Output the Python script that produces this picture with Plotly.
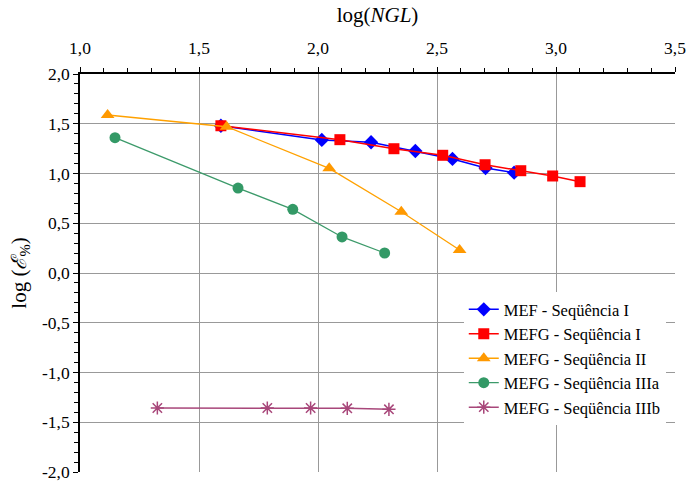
import plotly.graph_objects as go

# Data
mef_I_x = [1.592, 2.016, 2.223, 2.409, 2.565, 2.704, 2.824]
mef_I_y = [1.480, 1.337, 1.314, 1.226, 1.146, 1.055, 1.008]

mefg_I_x = [1.592, 2.092, 2.319, 2.524, 2.702, 2.852, 2.986, 3.101]
mefg_I_y = [1.480, 1.340, 1.249, 1.183, 1.088, 1.028, 0.975, 0.918]

mefg_II_x = [1.116, 1.616, 2.047, 2.350, 2.595]
mefg_II_y = [1.588, 1.470, 1.052, 0.616, 0.231]

mefg_IIIa_x = [1.147, 1.664, 1.894, 2.101, 2.280]
mefg_IIIa_y = [1.360, 0.854, 0.640, 0.362, 0.201]

mefg_IIIb_x = [1.325, 1.787, 1.969, 2.123, 2.298]
mefg_IIIb_y = [-1.357, -1.357, -1.357, -1.360, -1.370]

names = ["MEF - Seqüência I", "MEFG - Seqüência I", "MEFG - Seqüência II",
         "MEFG - Seqüência IIIa", "MEFG - Seqüência IIIb"]

x_tickvals = [1.0, 1.5, 2.0, 2.5, 3.0, 3.5]
x_ticktext = ["1,0", "1,5", "2,0", "2,5", "3,0", "3,5"]
y_tickvals = [2.0, 1.5, 1.0, 0.5, 0.0, -0.5, -1.0, -1.5, -2.0]
y_ticktext = ["2,0", "1,5", "1,0", "0,5", "0,0", "-0,5", "-1,0", "-1,5", "-2,0"]

FONT = "Liberation Serif"

fig = go.Figure()
fig.add_trace(go.Scatter(x=mef_I_x, y=mef_I_y, name=names[0], mode="lines+markers",
                         line=dict(color="#0000FF", width=1.5),
                         marker=dict(symbol="diamond", size=11, color="#0000FF")))
fig.add_trace(go.Scatter(x=mefg_I_x, y=mefg_I_y, name=names[1], mode="lines+markers",
                         line=dict(color="#FF0000", width=1.5),
                         marker=dict(symbol="square", size=11, color="#FF0000")))
fig.add_trace(go.Scatter(x=mefg_II_x, y=mefg_II_y, name=names[2], mode="lines+markers",
                         line=dict(color="#FFA100", width=1.3),
                         marker=dict(symbol="triangle-up", size=12, color="#FF9900")))
fig.add_trace(go.Scatter(x=mefg_IIIa_x, y=mefg_IIIa_y, name=names[3], mode="lines+markers",
                         line=dict(color="#3C9A6A", width=1.3),
                         marker=dict(symbol="circle", size=11, color="#339966")))
fig.add_trace(go.Scatter(x=mefg_IIIb_x, y=mefg_IIIb_y, name=names[4], mode="lines+markers",
                         line=dict(color="#A8477A", width=1.5),
                         marker=dict(symbol="asterisk-open", size=11,
                                     line=dict(color="#993366", width=1.5))))

fig.update_layout(
    width=689, height=484,
    margin=dict(l=80, r=14, t=74, b=12),
    paper_bgcolor="white", plot_bgcolor="white",
    font=dict(family=FONT, size=17, color="black"),
    showlegend=True,
    legend=dict(x=0.645, y=0.452, xanchor="left", yanchor="top",
                bgcolor="white", borderwidth=0,
                font=dict(family=FONT, size=16.5, color="black"),
                tracegroupgap=0, itemwidth=30),
    xaxis=dict(side="top", range=[1.0, 3.5], tickvals=x_tickvals, ticktext=x_ticktext,
               automargin=False,
               showgrid=True, gridcolor="#999999", gridwidth=1,
               showline=True, linecolor="black", linewidth=1.5,
               ticks="outside", ticklen=5, tickcolor="black",
               ticklabelstandoff=6,
               tickfont=dict(family=FONT, size=17.5),
               minor=dict(dtick=0.1, tick0=1.0, ticks="outside", ticklen=4, tickcolor="black", showgrid=False),
               zeroline=False,
               title=dict(text="log(<i>NGL</i>)", font=dict(family=FONT, size=21), standoff=10)),
    yaxis=dict(range=[-2.0, 2.0], tickvals=y_tickvals, ticktext=y_ticktext,
               automargin=False,
               showgrid=True, gridcolor="#999999", gridwidth=1,
               showline=True, linecolor="black", linewidth=1.5,
               ticks="outside", ticklen=5, tickcolor="black",
               tickfont=dict(family=FONT, size=17.5),
               minor=dict(dtick=0.1, tick0=0, ticks="outside", ticklen=4, tickcolor="black", showgrid=False),
               zeroline=False,
               title=dict(text="log (<i>ℰ</i><sub>%</sub>)", font=dict(family=FONT, size=21), standoff=10)),
)

fig.write_html("out.html")
